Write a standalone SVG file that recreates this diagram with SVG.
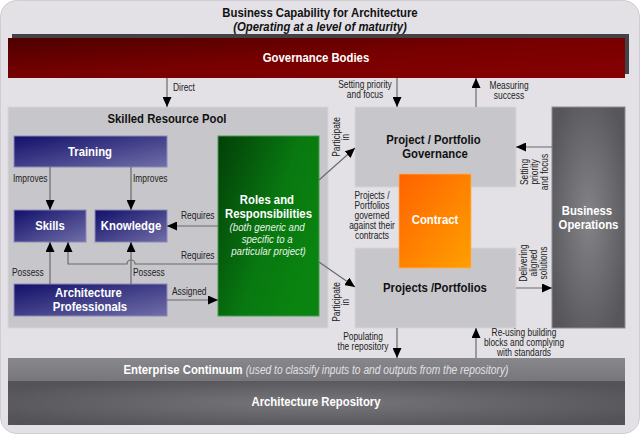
<svg xmlns="http://www.w3.org/2000/svg" width="640" height="434" viewBox="0 0 640 434">
  <defs>
    <linearGradient id="gRed" x1="0" y1="0" x2="1" y2="1">
      <stop offset="0" stop-color="#4e0000"/>
      <stop offset="0.5" stop-color="#780000"/>
      <stop offset="1" stop-color="#880000"/>
    </linearGradient>
    <linearGradient id="gBlue" x1="0" y1="0" x2="1" y2="1">
      <stop offset="0" stop-color="#12106a"/>
      <stop offset="1" stop-color="#716ea8"/>
    </linearGradient>
    <linearGradient id="gGreen" x1="0" y1="0" x2="1" y2="0.6">
      <stop offset="0" stop-color="#033f08"/>
      <stop offset="0.6" stop-color="#087810"/>
      <stop offset="1" stop-color="#0a8410"/>
    </linearGradient>
    <linearGradient id="gOrange" x1="0" y1="0" x2="1" y2="1">
      <stop offset="0" stop-color="#ff6200"/>
      <stop offset="1" stop-color="#ffa000"/>
    </linearGradient>
    <radialGradient id="gOps" cx="0.5" cy="0.5" r="0.6">
      <stop offset="0" stop-color="#848387"/>
      <stop offset="1" stop-color="#57565a"/>
    </radialGradient>
    <radialGradient id="gRepo" cx="0.5" cy="0.5" r="0.6">
      <stop offset="0" stop-color="#77767a"/>
      <stop offset="1" stop-color="#545357"/>
    </radialGradient>
    <linearGradient id="gEc" x1="0" y1="0" x2="0" y2="1">
      <stop offset="0" stop-color="#88878b"/>
      <stop offset="1" stop-color="#77767a"/>
    </linearGradient>
    <marker id="arr" markerUnits="userSpaceOnUse" markerWidth="11" markerHeight="9" refX="10" refY="4.5" orient="auto">
      <path d="M0,0 L10,4.5 L0,9 z" fill="#000"/>
    </marker>
    <style>
      /* narrow sans look: Liberation Sans squeezed horizontally via scale(.84,1) on each text */
      .t { font-family: "Liberation Sans", Arial, sans-serif; }
      .lbl { font-size: 10px; fill: #222; }
      .hd { font-size: 13.5px; font-weight: bold; }
      .w { fill: #fff; }
      .k { fill: #111; }
      .blue { fill: url(#gBlue); stroke: #8b89b8; stroke-width: 1; }
      .gray { fill: #c7c6ca; stroke: #d6d5d9; stroke-width: 1; }
      .con { fill: none; stroke: #6a6a6a; stroke-width: 1.2; marker-end: url(#arr); }
    </style>
  </defs>

  <!-- page -->
  <rect x="0.5" y="0.5" width="639" height="433" rx="16" fill="#e3e1e5" stroke="#cfcdd1"/>

  <g id="title" class="t" text-anchor="middle">
    <text transform="translate(320,0) scale(.84,1)" x="0" y="17" font-size="13.5" font-weight="bold" class="k">Business Capability for Architecture</text>
    <text transform="translate(320,0) scale(.84,1)" x="0" y="31" font-size="13.5" font-weight="bold" font-style="italic" class="k">(Operating at a level of maturity)</text>
  </g>

  <g id="governance-bodies">
    <rect x="12" y="34" width="617" height="40" fill="#434246"/>
    <rect x="8" y="38" width="617" height="40" fill="url(#gRed)"/>
    <text transform="translate(316,0) scale(.84,1)" x="0" y="62" class="t hd w" text-anchor="middle">Governance Bodies</text>
  </g>

  <g id="skilled-resource-pool">
    <rect x="8" y="107" width="320" height="221" class="gray"/>
    <text transform="translate(167,0) scale(.84,1)" x="0" y="123.5" class="t hd k" text-anchor="middle">Skilled Resource Pool</text>
  </g>

  <g id="training">
    <rect x="14" y="136" width="153" height="31" class="blue"/>
    <text transform="translate(90,0) scale(.84,1)" x="0" y="156.5" class="t hd w" text-anchor="middle">Training</text>
  </g>

  <g id="skills">
    <rect x="14" y="210" width="72" height="32" class="blue"/>
    <text transform="translate(50,0) scale(.84,1)" x="0" y="230.5" class="t hd w" text-anchor="middle">Skills</text>
  </g>

  <g id="knowledge">
    <rect x="95" y="210" width="72" height="32" class="blue"/>
    <text transform="translate(131,0) scale(.84,1)" x="0" y="230.5" class="t hd w" text-anchor="middle">Knowledge</text>
  </g>

  <g id="architecture-professionals">
    <rect x="14" y="284" width="153" height="32" class="blue"/>
    <text transform="translate(90,0) scale(.84,1)" class="t hd w" text-anchor="middle">
      <tspan x="0" y="297.5">Architecture</tspan>
      <tspan x="0" y="311.5">Professionals</tspan>
    </text>
  </g>

  <g id="roles-and-responsibilities">
    <rect x="218" y="136" width="101" height="180" fill="url(#gGreen)" stroke="#4a9a4e" stroke-width="1"/>
    <text transform="translate(268.5,0) scale(.84,1)" class="t hd w" text-anchor="middle">
      <tspan x="0" y="204">Roles and</tspan>
      <tspan x="0" y="218">Responsibilities</tspan>
    </text>
    <text transform="translate(268.5,0) scale(.84,1)" class="t" font-size="11.5" font-style="italic" fill="#e8f2e8" text-anchor="middle">
      <tspan x="0" y="231.5">(both generic and</tspan>
      <tspan x="0" y="243.5">specific to a</tspan>
      <tspan x="0" y="255.5">particular project)</tspan>
    </text>
  </g>

  <g id="project-portfolio-governance">
    <rect x="355" y="107" width="161" height="80" class="gray"/>
    <text transform="translate(435,0) scale(.84,1)" class="t hd k" text-anchor="middle">
      <tspan x="0" y="144.5">Project / Portfolio</tspan>
      <tspan x="0" y="158.5">Governance</tspan>
    </text>
  </g>

  <g id="projects-portfolios">
    <rect x="355" y="248" width="161" height="80" class="gray"/>
    <text transform="translate(435,0) scale(.84,1)" x="0" y="292.5" class="t hd k" text-anchor="middle">Projects /Portfolios</text>
  </g>

  <g id="contract">
    <rect x="399" y="174" width="72" height="94" fill="url(#gOrange)" stroke="#ffb060" stroke-width="0.8"/>
    <text transform="translate(435,0) scale(.84,1)" x="0" y="224.5" class="t hd w" text-anchor="middle">Contract</text>
  </g>

  <g id="business-operations">
    <rect x="552" y="107" width="73" height="221" fill="url(#gOps)" stroke="#8d8c90" stroke-width="1"/>
    <text transform="translate(588.5,0) scale(.84,1)" class="t hd w" text-anchor="middle">
      <tspan x="0" y="215.5">Business</tspan>
      <tspan x="0" y="229.5">Operations</tspan>
    </text>
  </g>

  <g id="enterprise-continuum">
    <rect x="8" y="358" width="617" height="23" fill="url(#gEc)"/>
    <text transform="translate(316,0) scale(.84,1)" x="0" y="374" class="t" text-anchor="middle"><tspan font-size="13.5" font-weight="bold" fill="#fff">Enterprise Continuum </tspan><tspan font-size="12.2" font-style="italic" fill="#e2e1e4">(used to classify inputs to and outputs from the repository)</tspan></text>
  </g>

  <g id="architecture-repository">
    <rect x="8" y="381" width="617" height="44" fill="url(#gRepo)"/>
    <text transform="translate(316,0) scale(.84,1)" x="0" y="406.5" class="t w" font-size="13.5" font-weight="bold" text-anchor="middle">Architecture Repository</text>
  </g>

  <g id="connectors">
    <path class="con" d="M167,78 V107"/>
    <path class="con" d="M397,78 V107"/>
    <path class="con" d="M476,107 V78"/>
    <path class="con" d="M50,167 V210"/>
    <path class="con" d="M131,167 V210"/>
    <path class="con" d="M218,226 H167"/>
    <path class="con" d="M218,264 H135 A4,4 0 0 0 127,264 H68 V242"/>
    <path class="con" d="M50,284 V242"/>
    <path class="con" d="M131,284 V242"/>
    <path class="con" d="M167,300 H218"/>
    <path class="con" d="M319,180 L355,148"/>
    <path class="con" d="M319,262 L355,287"/>
    <path class="con" d="M552,147 H516"/>
    <path class="con" d="M516,288 H552"/>
    <path class="con" d="M397,328 V358"/>
    <path class="con" d="M476,358 V328"/>
  </g>

  <g id="connector-labels" class="t lbl">
    <text transform="translate(173,0) scale(.84,1)" x="0" y="91.5">Direct</text>
    <text transform="translate(365,0) scale(.84,1)" text-anchor="middle"><tspan x="0" y="88.5">Setting priority</tspan><tspan x="0" y="98.5">and focus</tspan></text>
    <text transform="translate(509,0) scale(.84,1)" text-anchor="middle"><tspan x="0" y="89">Measuring</tspan><tspan x="0" y="99">success</tspan></text>
    <text transform="translate(13,0) scale(.84,1)" x="0" y="182.5">Improves</text>
    <text transform="translate(133,0) scale(.84,1)" x="0" y="182.5">Improves</text>
    <text transform="translate(181,0) scale(.84,1)" x="0" y="219.5">Requires</text>
    <text transform="translate(181,0) scale(.84,1)" x="0" y="259.5">Requires</text>
    <text transform="translate(12,0) scale(.84,1)" x="0" y="276">Possess</text>
    <text transform="translate(133,0) scale(.84,1)" x="0" y="276">Possess</text>
    <text transform="translate(172,0) scale(.84,1)" x="0" y="295">Assigned</text>
    <text transform="translate(340,137) rotate(-90) scale(.84,1)" text-anchor="middle"><tspan x="0" y="0">Participate</tspan><tspan x="0" y="9">in</tspan></text>
    <text transform="translate(340,302) rotate(-90) scale(.84,1)" text-anchor="middle"><tspan x="0" y="0">Participate</tspan><tspan x="0" y="9">in</tspan></text>
    <text transform="translate(372,0) scale(.84,1)" text-anchor="middle"><tspan x="0" y="199.5">Projects /</tspan><tspan x="0" y="209.5">Portfolios</tspan><tspan x="0" y="219.5">governed</tspan><tspan x="0" y="229.5">against their</tspan><tspan x="0" y="239.5">contracts</tspan></text>
    <text transform="translate(528,172) rotate(-90) scale(.84,1)" text-anchor="middle"><tspan x="0" y="0">Setting</tspan><tspan x="0" y="10">priority</tspan><tspan x="0" y="20">and focus</tspan></text>
    <text transform="translate(527,263) rotate(-90) scale(.84,1)" text-anchor="middle"><tspan x="0" y="0">Delivering</tspan><tspan x="0" y="10">aligned</tspan><tspan x="0" y="20">solutions</tspan></text>
    <text transform="translate(363,0) scale(.84,1)" text-anchor="middle"><tspan x="0" y="340.5">Populating</tspan><tspan x="0" y="350.5">the repository</tspan></text>
    <text transform="translate(524,0) scale(.84,1)" text-anchor="middle"><tspan x="0" y="336.5">Re-using building</tspan><tspan x="0" y="346.5">blocks and complying</tspan><tspan x="0" y="356.5">with standards</tspan></text>
  </g>
</svg>
